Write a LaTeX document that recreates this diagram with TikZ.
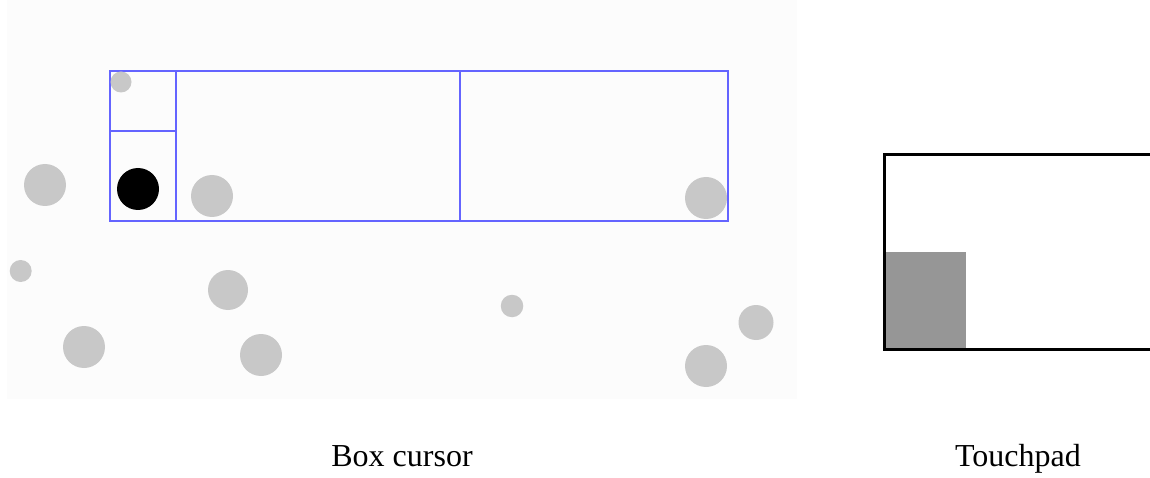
\documentclass[tikz,border=0pt]{standalone}
\usepackage{fontspec}
\setmainfont{Liberation Serif}
\definecolor{panelbg}{HTML}{FCFCFC}
\definecolor{dotgray}{HTML}{C8C8C8}
\definecolor{boxblue}{HTML}{6464FF}
\definecolor{padgray}{HTML}{969696}
\tikzset{
  dot/.style={circle, fill=dotgray, inner sep=0pt, minimum size=#1},
  cursordot/.style={circle, fill=black, inner sep=0pt, minimum size=42pt},
  blueline/.style={draw=boxblue, line width=1.3pt},
  caption/.style={font=\fontsize{32}{38}\selectfont, anchor=base, inner sep=0pt}
}
\begin{document}
\begin{tikzpicture}[x=1pt,y=-1pt]
\useasboundingbox (0,0) rectangle (1150,478);
\clip (0,0) rectangle (1150,478);
\fill[white] (0,0) rectangle (1150,478);
\fill[panelbg] (7,0) rectangle (797,399);
% box cursor grid
\draw[blueline] (110,71) rectangle (728,221);
\draw[blueline] (176,71) -- (176,221);
\draw[blueline] (460,71) -- (460,221);
\draw[blueline] (110,131) -- (176,131);
% dots
\node[dot=21pt] (d1) at (121,82) {};
\node[cursordot] (cur) at (138,189) {};
\node[dot=42pt] (d2) at (45,185) {};
\node[dot=42pt] (d3) at (212,196) {};
\node[dot=42pt] (d4) at (706,198) {};
\node[dot=22pt] (d5) at (20.7,271) {};
\node[dot=40pt] (d6) at (228,290) {};
\node[dot=42pt] (d7) at (84,347) {};
\node[dot=42pt] (d8) at (261,355) {};
\node[dot=22.5pt] (d9) at (512,306) {};
\node[dot=35pt] (d10) at (756,322.5) {};
\node[dot=42pt] (d11) at (706,366) {};
% touchpad
\fill[padgray] (885.5,252) rectangle (966,347.5);
\draw[line width=3pt] (1160,155) -- (884,155) -- (884,349) -- (1160,349);
% captions
\node[caption] (lbox) at (402,466) {Box cursor};
\node[caption] (lpad) at (1018,466) {Touchpad};
\end{tikzpicture}
\end{document}
